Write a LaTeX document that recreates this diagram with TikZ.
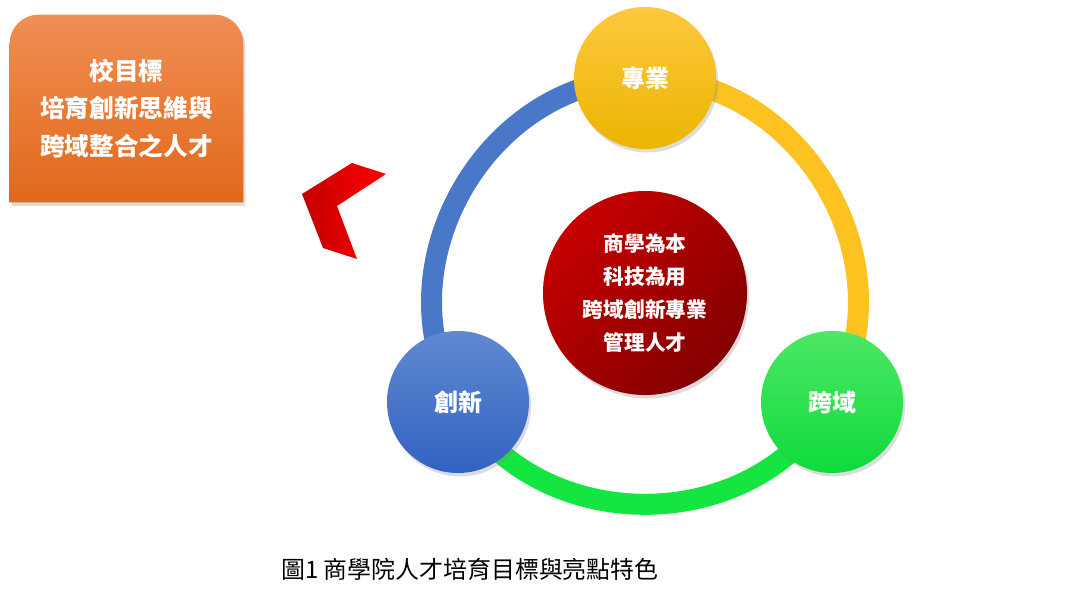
\documentclass[tikz,border=0pt]{standalone}
\usepackage{fontspec}
\usepackage{tikz}
\usetikzlibrary{shadows,backgrounds,positioning}
\newfontfamily\cjk{Noto Sans CJK TC}
\definecolor{ylwTop}{HTML}{FFC83E}
\definecolor{ylwBot}{HTML}{EAB600}
\definecolor{bluTop}{HTML}{6089D1}
\definecolor{bluBot}{HTML}{3263C2}
\definecolor{grnTop}{HTML}{4DE765}
\definecolor{grnBot}{HTML}{0EDB3B}
\definecolor{redTop}{HTML}{C60000}
\definecolor{redBot}{HTML}{840000}
\definecolor{ringBlue}{HTML}{4A78C9}
\definecolor{ringYlw}{HTML}{FBC220}
\definecolor{ringGreen}{HTML}{14E540}
\definecolor{orgTop}{HTML}{F08E54}
\definecolor{orgBot}{HTML}{E2681A}
\definecolor{chevDark}{HTML}{C40000}
\definecolor{chevLight}{HTML}{FF0000}

\begin{document}
\begin{tikzpicture}[x=0.025cm,y=0.025cm,
  softshadow/.style={drop shadow={opacity=0.28,shadow xshift=1.5pt,shadow yshift=-2.5pt}},
  pillar/.style={circle,minimum size=3.55cm,inner sep=0pt,text=white,softshadow,
                 font=\cjk\bfseries\fontsize{17}{20}\selectfont},
  core/.style={circle,minimum size=5.1cm,inner sep=0pt,align=center,text=white,softshadow,
               top color=redTop,bottom color=redBot,shading angle=45,
               font=\cjk\bfseries\fontsize{14.7}{23.4}\selectfont},
  goaltext/.style={minimum width=5.825cm,minimum height=4.675cm,inner sep=0pt,align=center,
                   text=white,font=\cjk\bfseries\fontsize{17.5}{26.5}\selectfont},
  goalbox/.style={top color=orgTop,bottom color=orgBot,softshadow},
  ring/.style={line width=0.525cm,bend right=60,looseness=1.08}]
  \useasboundingbox (0,0) rectangle (1080,598);
  % three pillars round the core
  \node[pillar,top color=ylwTop,bottom color=ylwBot] (prof) at (645,520) {專業};
  \node[pillar,top color=bluTop,bottom color=bluBot] (innov) at (458,196) {創新};
  \node[pillar,top color=grnTop,bottom color=grnBot] (cross) at (832,196) {跨域};
  \node[core] (core) at (645,305) {商學為本\\科技為用\\跨域創新專業\\管理人才};
  \node[goaltext] (goal) at (126.5,489.5) {校目標\\培育創新思維與\\跨域整合之人才};
  \begin{pgfonlayer}{background}
    \draw[ring,ringBlue] (prof.center) to (innov.center);
    \draw[ring,ringGreen] (innov.center) to (cross.center);
    \draw[ring,ringYlw] (cross.center) to (prof.center);
    \path[goalbox] (goal.south west) -- ([yshift=-0.72cm]goal.north west)
      arc[start angle=180,end angle=90,radius=0.72cm] -- ([xshift=-0.72cm]goal.north east)
      arc[start angle=90,end angle=0,radius=0.72cm] -- (goal.south east) -- cycle;
  \end{pgfonlayer}
  % chevron pointing at the goal box
  \shade[left color=chevDark,right color=chevLight]
    (302,404) -- (352,435) -- (386,424) -- (337,392) -- (357,339) -- (323,350) -- cycle;
  \node[font=\cjk\fontsize{17}{20}\selectfont] (caption) at (470,29) {圖1 商學院人才培育目標與亮點特色};
\end{tikzpicture}
\end{document}
